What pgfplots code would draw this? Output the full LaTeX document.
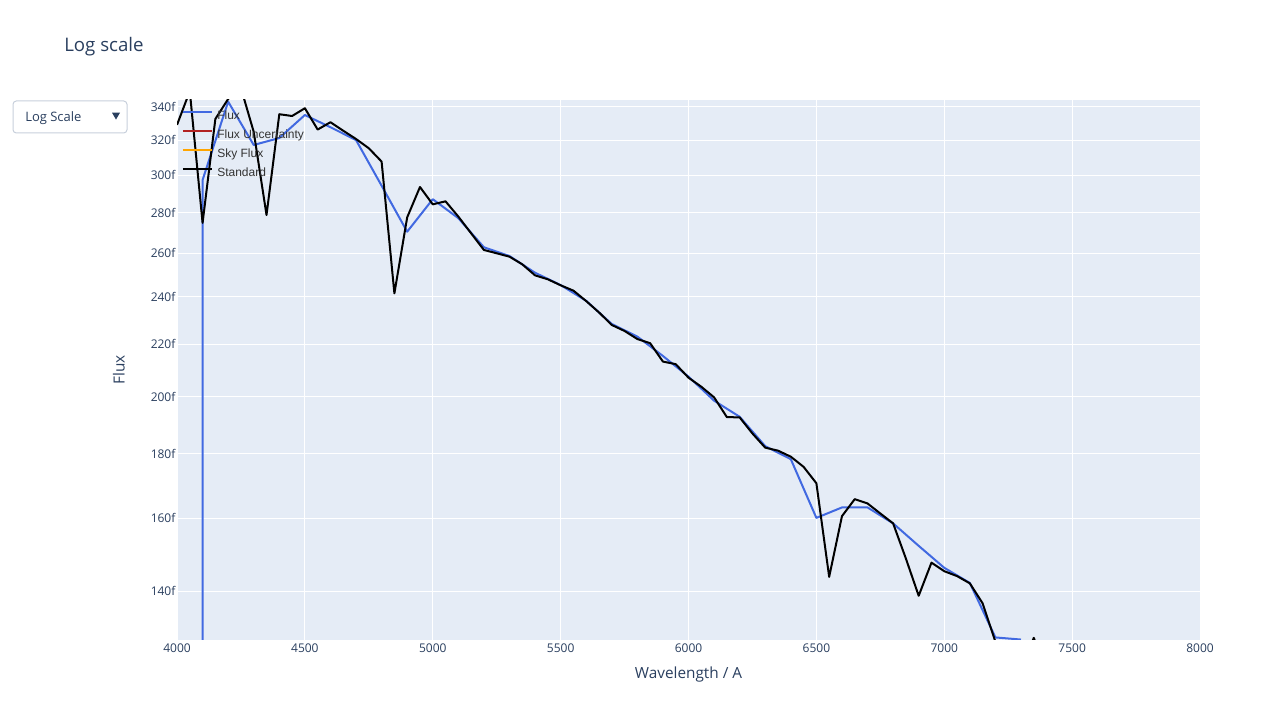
\documentclass[border=0pt]{standalone}
\usepackage{pgfplots}
\pgfplotsset{compat=1.18}
\usepackage{fontspec}
\setmainfont{Open Sans}
\newfontfamily\legfont{Liberation Sans}
\definecolor{plotbg}{HTML}{E5ECF6}
\definecolor{txt}{HTML}{2A3F5F}
\definecolor{legtxt}{HTML}{333333}
\definecolor{fluxblue}{HTML}{4169E1}
\definecolor{uncred}{HTML}{B22222}
\definecolor{skyor}{HTML}{FFA500}
\definecolor{ddborder}{HTML}{C8D0DC}

\pgfplotstableread{
x y
4099.5 5
4100 297.4
4200 343.3
4300 317.1
4400 321.2
4500 335.0
4600 327.6
4700 320.0
4800 294.3
4900 270.5
5000 287.1
5100 277.3
5200 262.9
5300 258.7
5400 250.9
5500 245.3
5600 238.3
5700 228.4
5800 223.2
5900 215.4
6000 207.4
6100 198.5
6200 192.7
6300 182.6
6400 178.3
6500 160.1
6600 163.2
6700 163.2
6800 158.5
6900 152.1
7000 146.1
7100 142.1
7200 128.6
7300 128.1
}\fluxtable

\pgfplotstableread{
x y
4000 329.0
4050 350.0
4100 274.9
4150 332.6
4200 345.0
4250 352.0
4300 324.8
4350 278.9
4400 335.5
4450 334.4
4500 339.2
4550 326.2
4600 330.6
4650 325.5
4700 320.6
4750 315.2
4800 307.6
4850 241.6
4900 277.7
4950 293.6
5000 284.4
5050 286.0
5100 278.1
5150 269.7
5200 261.6
5250 260.0
5300 258.4
5350 254.8
5400 249.7
5450 247.9
5500 245.2
5550 242.8
5600 238.2
5650 233.3
5700 228.0
5750 225.5
5800 222.2
5850 220.5
5900 213.2
5950 212.2
6000 207.0
6050 203.6
6100 199.7
6150 192.6
6200 192.5
6250 186.9
6300 182.1
6350 181.1
6400 179.1
6450 175.8
6500 170.6
6550 143.7
6600 160.6
6650 165.7
6700 164.4
6750 161.4
6800 158.5
6850 148.6
6900 138.8
6950 147.5
7000 145.2
7050 143.9
7100 142.0
7150 136.9
7200 127.6
7250 122.0
7300 121.0
7350 128.5
7400 121.0
7450 118.0
7500 116.0
}\stdtable

\begin{document}
\begin{tikzpicture}[x=1pt,y=1pt]
\useasboundingbox (0,0) rectangle (960,540);
\fill[white] (0,0) rectangle (960,540);
\node[anchor=west, text=txt, font=\fontsize{14}{16}\selectfont, inner sep=0pt] at (48,504.75) {Log scale};
\draw[ddborder, fill=white, rounded corners=2.5pt, line width=0.75pt] (9.75,440.25) rectangle (95.25,464.25);
\node[anchor=west, text=txt, font=\fontsize{9.75}{11}\selectfont, inner sep=0pt] at (18.75,451.5) {Log Scale};
\fill[txt] (84,455.5) -- (90,455.5) -- (87,450.3) -- cycle;
\begin{axis}[
  at={(132.75pt,60pt)}, anchor=south west,
  scale only axis, width=767.25pt, height=405pt,
  ymode=log,
  xmin=4000, xmax=8000, ymin=128, ymax=344.4,
  axis background/.style={fill=plotbg},
  axis line style={draw=none},
  major tick length=0pt, minor tick num=0,
  grid=major,
  major grid style={white, line width=0.75pt},
  xtick={4000,4500,5000,5500,6000,6500,7000,7500,8000},
  xticklabels={4000,4500,5000,5500,6000,6500,7000,7500,8000},
  ytick={140,160,180,200,220,240,260,280,300,320,340},
  yticklabels={140f,160f,180f,200f,220f,240f,260f,280f,300f,320f,340f},
  ticklabel style={font=\fontsize{9}{11}\selectfont, text=txt},
  xticklabel style={inner sep=0pt, yshift=-3pt},
  yticklabel style={inner sep=0pt, xshift=-1pt},
  xlabel={Wavelength / A},
  ylabel={Flux},
  xlabel style={at={(axis description cs:0.5,-0.0648)}, anchor=center, font=\fontsize{11.5}{13}\selectfont, text=txt},
  ylabel style={at={(axis description cs:-0.0567,0.5)}, anchor=center, font=\fontsize{11.5}{13}\selectfont, text=txt},
  legend style={at={(axis description cs:0,1)}, anchor=north west, xshift=3.5pt, yshift=-7.25pt,
    draw=none, fill=none, inner sep=0pt, row sep=5.25pt, column sep=3pt,
    font=\legfont\fontsize{9}{10}\selectfont, text=legtxt,
    nodes={inner sep=0pt, text height=7pt, text depth=2pt}},
  legend cell align=left,
  legend image code/.code={\draw[#1, line width=1.5pt] (0pt,3pt) -- (22pt,3pt);},
  clip=true,
]
\addplot[fluxblue, line width=1.5pt, line join=round] table[x=x,y=y] {\fluxtable};
\addlegendentry{Flux}
\addlegendimage{uncred}
\addlegendentry{Flux Uncertainty}
\addlegendimage{skyor}
\addlegendentry{Sky Flux}
\addplot[black, line width=1.5pt, line join=round] table[x=x,y=y] {\stdtable};
\addlegendentry{Standard}
\end{axis}
\end{tikzpicture}
\end{document}
